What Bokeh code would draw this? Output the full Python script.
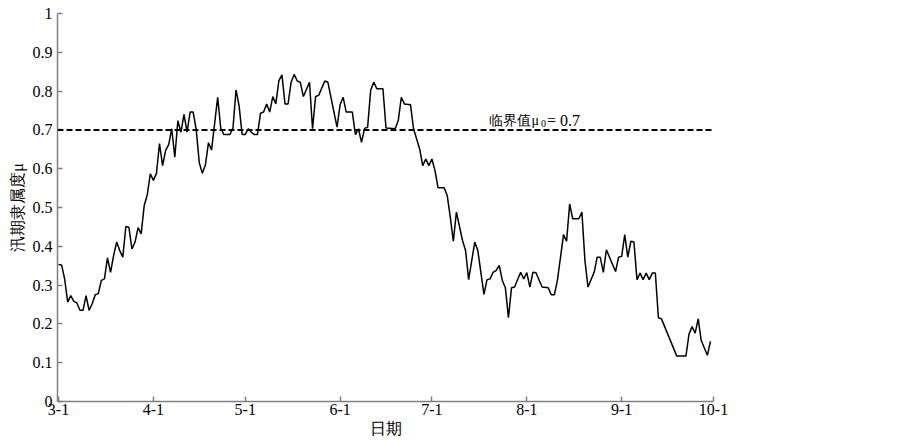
from bokeh.plotting import figure
from bokeh.models import Span, Label, FixedTicker
from bokeh.embed import file_html
from bokeh.resources import INLINE

# days since 3-1 (vertices of the daily series) and membership values
days = [0, 1, 2, 3, 4, 5, 6, 7, 8, 9, 10, 11, 12, 13, 14, 15, 16, 17, 18, 19,
        20, 21, 22, 23, 24, 25, 26, 27, 28, 29, 30, 31, 32, 33, 34, 35, 36, 37, 38, 39,
        40, 41, 42, 43, 44, 45, 46, 47, 48, 49, 50, 52, 53, 54, 56, 57, 58, 59, 60, 61,
        62, 63, 64, 65, 66, 67, 68, 69, 70, 71, 72, 73, 74, 75, 76, 77, 78, 79, 80, 82,
        83, 84, 85, 87, 88, 91, 92, 93, 94, 96, 97, 98, 99, 100, 101, 102, 103, 104, 106, 107,
        110, 111, 112, 113, 115, 116, 118, 119, 120, 121, 122, 123, 124, 126, 127, 128, 129, 130, 132, 133,
        134, 136, 137, 139, 140, 141, 142, 143, 144, 145, 146, 147, 148, 149, 151, 152, 153, 154, 155, 156,
        158, 160, 161, 162, 163, 165, 166, 167, 168, 170, 171, 172, 173, 175, 176, 177, 178, 179, 182, 183,
        184, 185, 186, 187, 188, 189, 190, 191, 192, 193, 194, 195, 196, 197, 202, 205, 206, 207, 208, 209,
        210, 212, 213]
mu = [0.353, 0.352, 0.316, 0.256, 0.273, 0.258, 0.254, 0.235, 0.235, 0.273, 0.235, 0.252, 0.275, 0.278, 0.312, 0.316, 0.370, 0.333, 0.376, 0.411,
      0.389, 0.372, 0.451, 0.449, 0.393, 0.411, 0.448, 0.432, 0.505, 0.533, 0.587, 0.570, 0.588, 0.665, 0.608, 0.647, 0.662, 0.703, 0.630, 0.724,
      0.694, 0.740, 0.694, 0.746, 0.746, 0.700, 0.615, 0.588, 0.610, 0.667, 0.648, 0.784, 0.705, 0.688, 0.688, 0.705, 0.803, 0.762, 0.688, 0.688,
      0.703, 0.694, 0.688, 0.688, 0.743, 0.746, 0.767, 0.746, 0.786, 0.767, 0.827, 0.842, 0.767, 0.767, 0.823, 0.843, 0.826, 0.823, 0.786, 0.823,
      0.703, 0.786, 0.789, 0.826, 0.823, 0.707, 0.765, 0.784, 0.746, 0.746, 0.688, 0.703, 0.668, 0.704, 0.707, 0.803, 0.823, 0.806, 0.806, 0.705,
      0.703, 0.724, 0.784, 0.767, 0.765, 0.703, 0.651, 0.608, 0.625, 0.608, 0.625, 0.595, 0.551, 0.551, 0.531, 0.475, 0.413, 0.488, 0.415, 0.389,
      0.314, 0.411, 0.389, 0.276, 0.314, 0.316, 0.333, 0.338, 0.351, 0.312, 0.293, 0.216, 0.293, 0.295, 0.333, 0.316, 0.332, 0.295, 0.333, 0.332,
      0.295, 0.293, 0.275, 0.275, 0.312, 0.430, 0.413, 0.509, 0.471, 0.471, 0.488, 0.363, 0.295, 0.333, 0.372, 0.372, 0.333, 0.391, 0.335, 0.372,
      0.374, 0.430, 0.372, 0.413, 0.411, 0.314, 0.331, 0.314, 0.331, 0.314, 0.331, 0.331, 0.216, 0.213, 0.117, 0.117, 0.174, 0.193, 0.176, 0.213,
      0.157, 0.119, 0.155]

threshold = 0.7

x_ticks = [0, 31, 61, 92, 122, 153, 184, 214]
x_labels = ["3-1", "4-1", "5-1", "6-1", "7-1", "8-1", "9-1", "10-1"]
y_ticks = [0, 0.1, 0.2, 0.3, 0.4, 0.5, 0.6, 0.7, 0.8, 0.9, 1]
y_labels = ["0", "0.1", "0.2", "0.3", "0.4", "0.5", "0.6", "0.7", "0.8", "0.9", "1"]

x_title = "日期"
y_title = "汛期隶属度μ"

SERIF = "Liberation Serif"
AX = "#808080"

p = figure(width=903, height=440, output_backend="svg", toolbar_location=None,
           x_range=(-0.33, 214.0), y_range=(0, 1),
           min_border_left=57, min_border_right=190, min_border_top=13, min_border_bottom=39)
p.outline_line_color = None
p.xgrid.visible = False
p.ygrid.visible = False
p.background_fill_color = "white"
p.border_fill_color = "white"

p.line(days, mu, line_color="black", line_width=1.5)

p.add_layout(Span(location=threshold, dimension="width", line_color="black",
                  line_width=2, line_dash="6 3"))

for ax in (p.xaxis[0], p.yaxis[0]):
    ax.axis_line_color = AX
    ax.axis_line_width = 1.5
    ax.major_tick_line_color = AX
    ax.major_tick_line_width = 1.5
    ax.major_tick_in = 5
    ax.major_tick_out = 0
    ax.minor_tick_line_color = None
    ax.major_label_text_font = SERIF
    ax.major_label_text_font_size = "16px"
    ax.major_label_text_color = "black"
    ax.axis_label_text_font = SERIF
    ax.axis_label_text_font_size = "16px"
    ax.axis_label_text_font_style = "normal"
    ax.axis_label_text_color = "black"

p.xaxis[0].ticker = FixedTicker(ticks=x_ticks)
p.xaxis[0].major_label_overrides = {t: l for t, l in zip(x_ticks, x_labels)}
p.xaxis[0].major_label_standoff = 2
p.xaxis[0].axis_label = x_title
p.xaxis[0].axis_label_standoff = 2

p.yaxis[0].ticker = FixedTicker(ticks=y_ticks)
p.yaxis[0].major_label_overrides = {t: l for t, l in zip(y_ticks, y_labels)}
p.yaxis[0].major_label_standoff = 5
p.yaxis[0].axis_label = y_title
p.yaxis[0].axis_label_standoff = 4

# annotation "临界值μ0 = 0.7"
p.add_layout(Label(x=140.8, y=threshold, y_offset=9, text="临界值μ",
                   text_font=SERIF, text_font_size="14px", text_color="black",
                   text_baseline="alphabetic"))
p.add_layout(Label(x=157.6, y=threshold, y_offset=6, text="0",
                   text_font=SERIF, text_font_size="10px", text_color="black",
                   text_baseline="alphabetic"))
p.add_layout(Label(x=159.6, y=threshold, y_offset=9, text="= 0.7",
                   text_font=SERIF, text_font_size="16px", text_color="black",
                   text_baseline="alphabetic"))

open("out.html", "w").write(file_html(p, INLINE))
